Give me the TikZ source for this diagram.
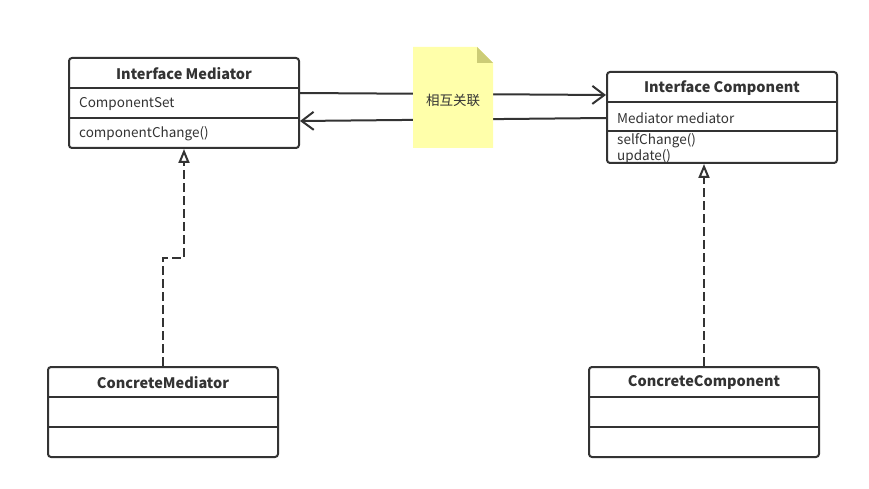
\documentclass[tikz,border=0pt]{standalone}
\usepackage{fontspec}
\setmainfont{Noto Sans CJK SC}
\usetikzlibrary{arrows.meta}
\definecolor{ink}{HTML}{333333}
\definecolor{notefill}{HTML}{FFFFAA}
\definecolor{notefold}{HTML}{CCCC77}
\tikzset{
  umlbox/.style={draw=ink, line width=2pt, rounded corners=3pt, fill=white, inner sep=0pt},
  divider/.style={draw=ink, line width=2pt},
  title/.style={font=\fontsize{14.5}{16}\selectfont\bfseries, text=ink, inner sep=0pt},
  member/.style={font=\fontsize{13.5}{15}\selectfont, text=ink, inner sep=0pt, anchor=west},
  assoc/.style={draw=ink, line width=2pt, -{Straight Barb[length=12pt,width=18pt,line width=2pt]}},
  realize/.style={draw=ink, line width=2pt, dash pattern=on 9pt off 4pt, -{Triangle[open,length=14pt,width=11pt,line width=2pt]}},
}
\begin{document}
\begin{tikzpicture}[x=1pt,y=-1pt]
\useasboundingbox (0,0) rectangle (869,489);
% boxes
\node[umlbox, minimum width=230pt, minimum height=90pt] (med) at (184,103) {};
\node[umlbox, minimum width=230pt, minimum height=91pt] (comp) at (722,117.5) {};
\node[umlbox, minimum width=230pt, minimum height=90pt] (cmed) at (163,412) {};
\node[umlbox, minimum width=230pt, minimum height=90pt] (ccomp) at (704,412) {};
% dividers
\draw[divider] (med.west |- 0,88) -- (med.east |- 0,88);
\draw[divider] (med.west |- 0,118) -- (med.east |- 0,118);
\draw[divider] (comp.west |- 0,102) -- (comp.east |- 0,102);
\draw[divider] (comp.west |- 0,131) -- (comp.east |- 0,131);
\draw[divider] (cmed.west |- 0,397) -- (cmed.east |- 0,397);
\draw[divider] (cmed.west |- 0,427) -- (cmed.east |- 0,427);
\draw[divider] (ccomp.west |- 0,397) -- (ccomp.east |- 0,397);
\draw[divider] (ccomp.west |- 0,427) -- (ccomp.east |- 0,427);
% texts
\node[title] (medt) at (184,74) {Interface Mediator};
\node[member] (meda) at (79,104.5) {ComponentSet};
\node[member] (medo) at (79,134) {componentChange()};
\node[title] (compt) at (722,88) {Interface Component};
\node[member] (compa) at (617,118.5) {Mediator mediator};
\node[member] (compo1) at (617,141) {selfChange()};
\node[member] (compo2) at (617,156.5) {update()};
\node[title] (cmedt) at (163,383) {ConcreteMediator};
\node[title] (ccompt) at (704,383) {ConcreteComponent};
% associations
\draw[assoc] (med.east |- 0,93) -- (comp.west |- 0,95);
\draw[assoc] (comp.west |- 0,118) -- (med.east |- 0,121);
% note
\fill[notefill] (413,47) -- (477,47) -- (493,63) -- (493,148) -- (413,148) -- cycle;
\fill[notefold] (477,47) -- (477,63) -- (493,63) -- cycle;
\node[font=\fontsize{13.5}{15}\selectfont, text=ink, inner sep=0pt] (note) at (453,100) {相互关联};
% realizations
\draw[realize] (cmed.north) -- (cmed.north |- 0,258) -| (med.south);
\draw[realize] (ccomp.north) -- (ccomp.north |- comp.south);
\end{tikzpicture}
\end{document}
